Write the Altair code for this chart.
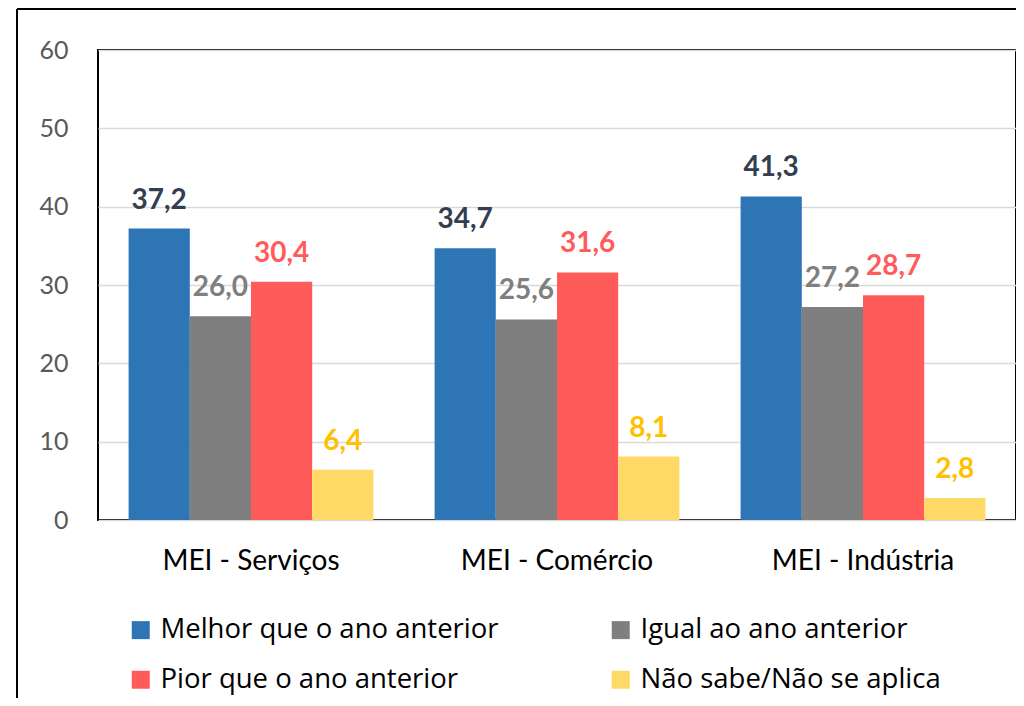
import altair as alt
import pandas as pd

categories = ["MEI - Serviços", "MEI - Comércio", "MEI - Indústria"]
series = ["Melhor que o ano anterior", "Igual ao ano anterior",
          "Pior que o ano anterior", "Não sabe/Não se aplica"]
values = {
    "Melhor que o ano anterior": [37.2, 34.7, 41.3],
    "Igual ao ano anterior": [26.0, 25.6, 27.2],
    "Pior que o ano anterior": [30.4, 31.6, 28.7],
    "Não sabe/Não se aplica": [6.4, 8.1, 2.8],
}
bar_colors = ["#2E75B6", "#7F7F7F", "#FF5B5B", "#FFD966"]
label_colors = ["#333F50", "#7F7F7F", "#FF5B5B", "#FFC000"]
y_ticks = [0, 10, 20, 30, 40, 50, 60]

rows = []
for si, s in enumerate(series):
    for ci, c in enumerate(categories):
        rows.append({"cat": c, "serie": s, "v": values[s][ci],
                     "order": si, "lc": label_colors[si]})
df = pd.DataFrame(rows)

FONT = "Lato"
LEGEND_FONT = "Open Sans"

base = alt.Chart(df).encode(
    x=alt.X("cat:N", sort=categories, title=None,
            scale=alt.Scale(paddingInner=0.2, paddingOuter=0.1),
            axis=alt.Axis(labelAngle=0, labelFontSize=28, labelColor="#000000",
                          labelFont=FONT, labelPadding=27, ticks=False,
                          domain=False, labelLimit=500)),
    xOffset=alt.XOffset("serie:N", sort=series,
                        scale=alt.Scale(paddingInner=0, paddingOuter=0)),
)

bars = base.mark_bar().encode(
    y=alt.Y("v:Q", title=None,
            scale=alt.Scale(domain=[0, 60], nice=False),
            axis=alt.Axis(values=y_ticks, labelFontSize=25, labelColor="#595959",
                          labelFont=FONT, labelPadding=30, ticks=False,
                          domain=False, gridColor="#D9D9D9", gridWidth=1.5)),
    color=alt.Color("serie:N", sort=series,
                    scale=alt.Scale(domain=series, range=bar_colors),
                    legend=alt.Legend(title=None, orient="none", legendX=29,
                                      legendY=566, columns=2, direction="horizontal",
                                      symbolType="square", symbolSize=324,
                                      symbolStrokeWidth=0, labelFontSize=27.5,
                                      labelFont=LEGEND_FONT, labelColor="#000000",
                                      labelOffset=6, columnPadding=108,
                                      rowPadding=21, labelLimit=500)),
)

labels = base.transform_calculate(
    lab="replace(format(datum.v, '.1f'), '.', ',')"
).mark_text(fontSize=28, fontWeight="bold", font=FONT, baseline="alphabetic",
            yOffset=-20).encode(
    y="v:Q",
    text="lab:N",
    color=alt.Color("lc:N", scale=None),
)

frame_v = alt.Chart(pd.DataFrame({"a": [0]})).mark_rule(
    color="#000000", strokeWidth=2, clip=False
).encode(x=alt.value(-81), y=alt.value(-41), y2=alt.value(720))
frame_h = alt.Chart(pd.DataFrame({"a": [0]})).mark_rule(
    color="#000000", strokeWidth=2, clip=False
).encode(x=alt.value(-81), x2=alt.value(960), y=alt.value(-41))

chart = alt.layer(bars, labels, frame_v, frame_h).properties(
    width=918, height=470,
    background="white",
    autosize=alt.AutoSizeParams(type="none"),
    padding={"left": 90, "top": 42, "right": 0, "bottom": 178},
).configure_view(stroke="#000000", strokeWidth=2)

chart.save("out.html", embed_options={"renderer": "svg", "actions": False})
